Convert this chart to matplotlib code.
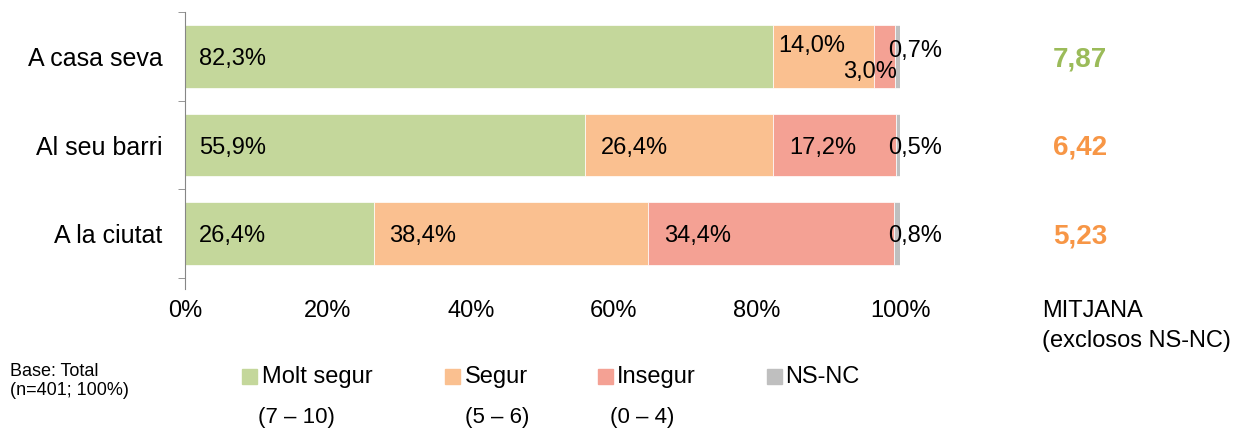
import numpy as np
import matplotlib.pyplot as plt
from matplotlib.patches import Rectangle

plt.rcParams['font.family'] = ['Liberation Sans', 'DejaVu Sans']

# Dades
categories = ['A casa seva', 'Al seu barri', 'A la ciutat']
molt_segur = [82.3, 55.9, 26.4]
segur = [14.0, 26.4, 38.4]
insegur = [3.0, 17.2, 34.4]
ns_nc = [0.7, 0.5, 0.8]
mitjana = ['7,87', '6,42', '5,23']
mitjana_colors = ['#9BBB59', '#F79646', '#F79646']

series_names = ['Molt segur', 'Segur', 'Insegur', 'NS-NC']
series_ranges = ['(7 – 10)', '(5 – 6)', '(0 – 4)', '']
colors = ['#C4D79B', '#FAC090', '#F4A194', '#BFBFBF']


def fmt(v):
    return f'{v:.1f}%'.replace('.', ',')


fig = plt.figure(figsize=(12.53, 4.30), dpi=100)
ax = fig.add_axes([0.1476, 0.3535, 0.5707, 0.6185])

series = [molt_segur, segur, insegur, ns_nc]
y = np.arange(len(categories))
left = np.zeros(len(categories))
for vals, col in zip(series, colors):
    ax.barh(y, vals, left=left, height=0.71, color=col, edgecolor='white', linewidth=0.5)
    left += np.array(vals)

ax.set_ylim(2.5, -0.5)
ax.set_xlim(0, 100)

fs = 17
# Etiquetes dins les barres
for i in range(len(categories)):
    ax.text(2.0, y[i] + 0.03, fmt(molt_segur[i]), va='center', ha='left', fontsize=fs)
    s0 = molt_segur[i]
    if segur[i] < 20:
        ax.text(s0 + 0.6, y[i] - 0.12, fmt(segur[i]), va='center', ha='left', fontsize=fs)
    else:
        ax.text(s0 + 2.2, y[i] + 0.03, fmt(segur[i]), va='center', ha='left', fontsize=fs)
    s1 = s0 + segur[i]
    if insegur[i] < 10:
        ax.text(s1 + insegur[i] + 0.3, y[i] + 0.18, fmt(insegur[i]), va='center', ha='right', fontsize=fs)
    else:
        ax.text(s1 + 2.2, y[i] + 0.03, fmt(insegur[i]), va='center', ha='left', fontsize=fs)
    ax.text(98.3, y[i] - (0.06 if i == 0 else -0.03), fmt(ns_nc[i]), va='center', ha='left', fontsize=fs)

# Mitjanes
for i, (m, c) in enumerate(zip(mitjana, mitjana_colors)):
    ax.text(125.2, y[i] + 0.03, m, va='center', ha='center', fontsize=20,
            fontweight='bold', color=c)
ax.text(119.9, 3.04, 'MITJANA\n(exclosos NS-NC)', va='center', ha='left',
        fontsize=17, linespacing=1.45)

ax.set_yticks(y)
ax.set_yticklabels(categories, fontsize=18)
ax.set_yticks([-0.5, 0.5, 1.5, 2.5], minor=True)
ax.tick_params(axis='y', which='major', length=0, pad=16)
ax.tick_params(axis='y', which='minor', length=5, color='#868686', direction='out')
ax.set_xticks([0, 20, 40, 60, 80, 100])
ax.set_xticklabels([f'{t}%' for t in [0, 20, 40, 60, 80, 100]], fontsize=fs)
ax.tick_params(axis='x', length=0, pad=16)
for side in ['top', 'right', 'bottom']:
    ax.spines[side].set_visible(False)
ax.spines['left'].set_color('#868686')
ax.spines['left'].set_bounds(2.62, -0.5)

# Llegenda
sq_x = [242, 445, 598, 767]
txt_x = [262, 465, 617, 785]
rng_x = [258, 465, 610, 0]
for name, rng, col, sx, tx, rx in zip(series_names, series_ranges, colors, sq_x, txt_x, rng_x):
    fig.patches.append(Rectangle((sx / 1253, 1 - 384 / 430), 15 / 1253, 15 / 430,
                                 transform=fig.transFigure, color=col, figure=fig))
    fig.text(tx / 1253, 1 - 377 / 430, name, fontsize=17, va='center', ha='left')
    if rng:
        fig.text(rx / 1253, 1 - 418 / 430, rng, fontsize=16, va='center', ha='left')

fig.text(0.008, 1 - 381 / 430, 'Base: Total\n(n=401; 100%)', fontsize=13,
         va='center', ha='left', linespacing=1.2)

fig.savefig('out.png', dpi=100)
